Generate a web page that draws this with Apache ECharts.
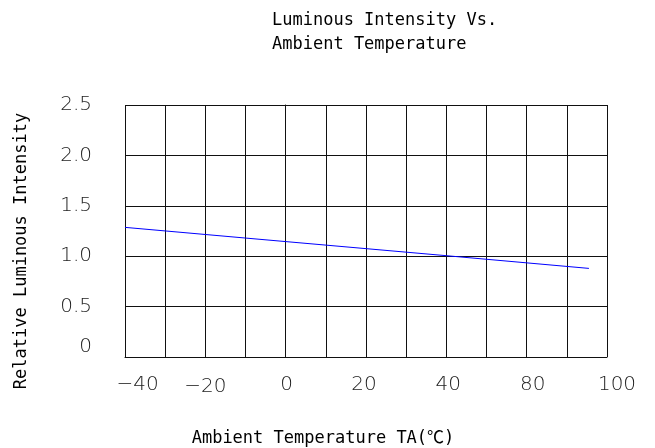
<!DOCTYPE html>
<html>
<head>
<meta charset="utf-8">
<script src="https://cdn.jsdelivr.net/npm/echarts@6/dist/echarts.min.js"></script>
<style>html,body{margin:0;padding:0;background:#fff}#c{width:655px;height:448px}</style>
</head>
<body>
<div id="c"></div>
<script>
// Data
var tickLabels = ['\u221240', '\u221220', '0', '20', '40', '80', '100'];
var yTickLabels = ['0', '0.5', '1.0', '1.5', '2.0', '2.5'];
var temperature = [-40, -10, 40, 75.5];
var intensity = [1.286, 1.18, 1.005, 0.879];

var chart = echarts.init(document.getElementById('c'), null, {renderer: 'canvas'});
var seriesData = temperature.map(function (t, i) { return [t, intensity[i]]; });
var monoFont = '"DejaVu Sans Mono", "Noto Sans CJK SC", monospace';
var thinFont = '"DejaVu Sans", sans-serif';

var xRich = {
  l0: {padding: [0, 0, 0, 25]},
  l1: {padding: [2, 0, 0, 0]},
  l2: {padding: [0, 0, 0, 2]},
  l3: {padding: [0, 4, 0, 0]},
  l4: {padding: [0, 0, 0, 4]},
  l5: {padding: [0, 0, 0, 12]},
  l6: {padding: [0, 0, 0, 20]}
};
var txt = {fontFamily: thinFont, fontWeight: 200, fontSize: 20, color: '#222'};
Object.keys(xRich).forEach(function (k) { Object.assign(xRich[k], txt); });

var option = {
  backgroundColor: '#fff',
  animation: false,
  title: {
    text: 'Luminous Intensity Vs.\nAmbient Temperature',
    left: 267,
    top: 4,
    textStyle: {fontFamily: monoFont, fontSize: 17, fontWeight: 'normal', color: '#000', lineHeight: 24}
  },
  grid: {left: 125, top: 105, width: 482, height: 252, show: false, outerBoundsMode: 'none', containLabel: false},
  xAxis: {
    type: 'value',
    min: -40,
    max: 80,
    interval: 10,
    name: 'Ambient Temperature TA(\u2103)',
    nameLocation: 'middle',
    nameGap: 73,
    nameTextStyle: {fontFamily: monoFont, fontSize: 17, color: '#000', padding: [0, 86, 0, 0]},
    axisLine: {show: true, onZero: false, lineStyle: {color: '#111', width: 1}},
    axisTick: {show: false},
    splitLine: {show: true, lineStyle: {color: '#111', width: 1}},
    axisLabel: {
      margin: 18,
      showMinLabel: true,
      showMaxLabel: true,
      interval: 0,
      formatter: function (v) {
        var idx = (v + 40) / 20;
        if (idx !== Math.round(idx)) return '';
        return '{l' + idx + '|' + tickLabels[idx] + '}';
      },
      rich: xRich
    }
  },
  yAxis: {
    type: 'value',
    min: 0,
    max: 2.5,
    interval: 0.5,
    name: 'Relative Luminous Intensity',
    nameLocation: 'middle',
    nameGap: 95,
    nameRotate: 90,
    nameTextStyle: {fontFamily: monoFont, fontSize: 17, color: '#000', padding: [0, 0, 0, -40]},
    axisLine: {show: true, lineStyle: {color: '#111', width: 1}},
    axisTick: {show: false},
    splitLine: {show: true, lineStyle: {color: '#111', width: 1}},
    axisLabel: {
      margin: 33,
      formatter: function (v) {
        var idx = Math.round(v / 0.5);
        return idx === 0 ? '{z|' + yTickLabels[idx] + '}' : '{n|' + yTickLabels[idx] + '}';
      },
      rich: {
        z: Object.assign({padding: [0, 0, 20, 0]}, txt),
        n: Object.assign({}, txt)
      }
    }
  },
  series: [{
    type: 'line',
    data: seriesData,
    symbol: 'none',
    lineStyle: {color: '#0000ff', width: 1},
    silent: true
  }]
};
chart.setOption(option);
</script>
</body>
</html>
